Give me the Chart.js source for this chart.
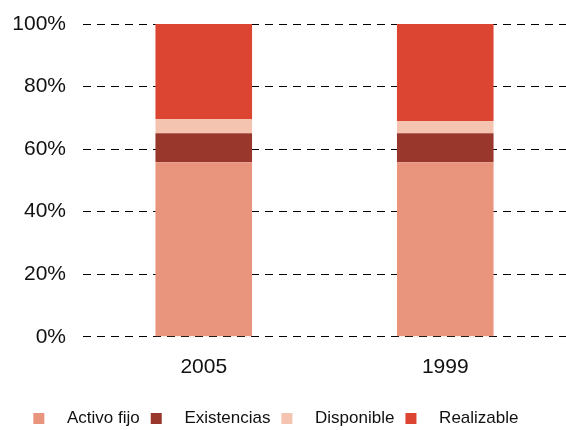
<!DOCTYPE html>
<html>
<head>
<meta charset="utf-8">
<script src="https://cdn.jsdelivr.net/npm/chart.js@4"></script>
<style>
  html, body { margin: 0; padding: 0; background: #fff; }
  #wrap { width: 566px; height: 430px; }
</style>
</head>
<body>
<div id="wrap"><canvas id="balanceChart"></canvas></div>
<script>
// Data
const years = ["2005", "1999"];
const activoFijo = [55.8, 55.8];
const existencias = [9.3, 9.3];
const disponible = [4.5, 3.8];
const realizable = [30.4, 31.1];

document.addEventListener("DOMContentLoaded", () => {
  Chart.defaults.font.family = "'Liberation Sans', Arial, sans-serif";
  Chart.defaults.color = "#111";

  const chart = new Chart(document.getElementById("balanceChart"), {
    type: "bar",
    data: {
      labels: years,
      datasets: [
        { label: "Activo fijo", data: activoFijo, backgroundColor: "#e9957e" },
        { label: "Existencias", data: existencias, backgroundColor: "#9a372c" },
        { label: "Disponible", data: disponible, backgroundColor: "#f5c4b0" },
        { label: "Realizable", data: realizable, backgroundColor: "#dd4533" },
      ],
    },
    options: {
      responsive: true,
      maintainAspectRatio: false,
      animation: false,
      barPercentage: 0.4,
      categoryPercentage: 1,
      layout: { padding: { left: 0, right: 0, top: 24, bottom: -7 } },
      plugins: {
        tooltip: { enabled: false },
        legend: {
          position: "bottom",
          labels: {
            boxWidth: 11,
            boxHeight: 11,
            padding: 11,
            font: { size: 17 },
            // extra spaces: wider gap between box and text, and nudge the row left
            generateLabels: (c) => Chart.defaults.plugins.legend.labels.generateLabels(c)
              .map((item, i, all) => ({
                ...item,
                text: "   " + item.text + (i === all.length - 1 ? "   " : ""),
              })),
          },
        },
      },
      scales: {
        x: {
          stacked: true,
          grid: { display: false },
          border: { display: false },
          ticks: { font: { size: 21 }, padding: 10 },
          afterFit: (s) => { s.height += 9; },
        },
        y: {
          stacked: true,
          min: 0,
          max: 100,
          ticks: {
            stepSize: 20,
            padding: 17,
            font: { size: 21 },
            callback: (v) => v + "%",
          },
          grid: { color: "#000", lineWidth: 1, drawTicks: false },
          border: { display: false, dash: [8, 6] },
          afterFit: (s) => {
            s.width = 83;
            s.paddingTop = 0;
            s.paddingBottom = 0;
          },
        },
      },
    },
  });
});
</script>
</body>
</html>
